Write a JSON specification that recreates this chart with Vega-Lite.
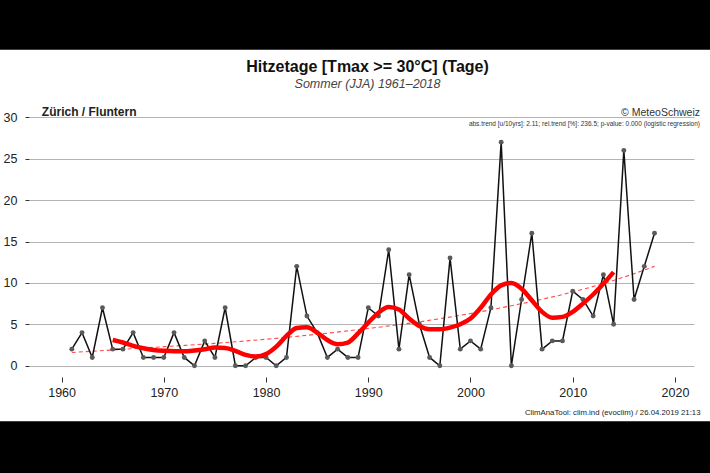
{
  "$schema": "https://vega.github.io/schema/vega-lite/v6.json",
  "width": 665,
  "height": 265,
  "autosize": {"type": "none"},
  "padding": {"left": 35, "top": 109, "right": 10, "bottom": 99},
  "background": "#ffffff",
  "title": {
    "text": "Hitzetage [Tmax >= 30°C] (Tage)",
    "subtitle": "Sommer (JJA) 1961–2018",
    "anchor": "middle",
    "frame": "group",
    "font": "Liberation Sans",
    "fontSize": 16,
    "fontWeight": "bold",
    "color": "#111111",
    "subtitleFont": "Liberation Sans",
    "subtitleFontStyle": "italic",
    "subtitleFontSize": 12.5,
    "subtitleColor": "#444444",
    "subtitlePadding": 3,
    "offset": -92.8
  },
  "config": {
    "view": {"stroke": null},
    "font": "Liberation Sans",
    "axisY": {
      "grid": true,
      "gridColor": "#b4b4b4",
      "gridWidth": 1.2,
      "domain": false,
      "tickColor": "#333333",
      "tickSize": 4,
      "offset": 6,
      "labelFontSize": 12.5,
      "labelColor": "#222222",
      "labelPadding": 8
    },
    "axisX": {
      "grid": false,
      "domain": false,
      "tickColor": "#333333",
      "tickSize": 5,
      "offset": 3,
      "labelFontSize": 12.5,
      "labelColor": "#222222",
      "labelPadding": 4,
      "titleFontSize": 7.8,
      "titleFontWeight": "normal",
      "titleColor": "#222222",
      "titleAnchor": "end",
      "titlePadding": 10
    }
  },
  "datasets": {
    "one": [{}],
    "obs": [
      {"year": 1961, "days": 2}, {"year": 1962, "days": 4}, {"year": 1963, "days": 1}, {"year": 1964, "days": 7},
      {"year": 1965, "days": 2}, {"year": 1966, "days": 2}, {"year": 1967, "days": 4}, {"year": 1968, "days": 1},
      {"year": 1969, "days": 1}, {"year": 1970, "days": 1}, {"year": 1971, "days": 4}, {"year": 1972, "days": 1},
      {"year": 1973, "days": 0}, {"year": 1974, "days": 3}, {"year": 1975, "days": 1}, {"year": 1976, "days": 7},
      {"year": 1977, "days": 0}, {"year": 1978, "days": 0}, {"year": 1979, "days": 1}, {"year": 1980, "days": 1},
      {"year": 1981, "days": 0}, {"year": 1982, "days": 1}, {"year": 1983, "days": 12}, {"year": 1984, "days": 6},
      {"year": 1985, "days": 4}, {"year": 1986, "days": 1}, {"year": 1987, "days": 2}, {"year": 1988, "days": 1},
      {"year": 1989, "days": 1}, {"year": 1990, "days": 7}, {"year": 1991, "days": 6}, {"year": 1992, "days": 14},
      {"year": 1993, "days": 2}, {"year": 1994, "days": 11}, {"year": 1995, "days": 5}, {"year": 1996, "days": 1},
      {"year": 1997, "days": 0}, {"year": 1998, "days": 13}, {"year": 1999, "days": 2}, {"year": 2000, "days": 3},
      {"year": 2001, "days": 2}, {"year": 2002, "days": 7}, {"year": 2003, "days": 27}, {"year": 2004, "days": 0},
      {"year": 2005, "days": 8}, {"year": 2006, "days": 16}, {"year": 2007, "days": 2}, {"year": 2008, "days": 3},
      {"year": 2009, "days": 3}, {"year": 2010, "days": 9}, {"year": 2011, "days": 8}, {"year": 2012, "days": 6},
      {"year": 2013, "days": 11}, {"year": 2014, "days": 5}, {"year": 2015, "days": 26}, {"year": 2016, "days": 8},
      {"year": 2017, "days": 12}, {"year": 2018, "days": 16}
    ],
    "smooth": [
      {"year": 1965, "value": 3.1}, {"year": 1966, "value": 2.8}, {"year": 1967, "value": 2.4}, {"year": 1968, "value": 2.1},
      {"year": 1969, "value": 1.9}, {"year": 1970, "value": 1.8}, {"year": 1971, "value": 1.75}, {"year": 1972, "value": 1.75},
      {"year": 1973, "value": 1.85}, {"year": 1974, "value": 2.0}, {"year": 1975, "value": 2.2}, {"year": 1976, "value": 2.15},
      {"year": 1977, "value": 1.8}, {"year": 1978, "value": 1.3}, {"year": 1979, "value": 1.1}, {"year": 1980, "value": 1.4},
      {"year": 1981, "value": 2.3}, {"year": 1982, "value": 3.6}, {"year": 1983, "value": 4.55}, {"year": 1984, "value": 4.65},
      {"year": 1985, "value": 4.0}, {"year": 1986, "value": 3.1}, {"year": 1987, "value": 2.6}, {"year": 1988, "value": 2.8},
      {"year": 1989, "value": 3.9}, {"year": 1990, "value": 5.2}, {"year": 1991, "value": 6.4}, {"year": 1992, "value": 7.1},
      {"year": 1993, "value": 6.8}, {"year": 1994, "value": 5.7}, {"year": 1995, "value": 4.8}, {"year": 1996, "value": 4.4},
      {"year": 1997, "value": 4.4}, {"year": 1998, "value": 4.6}, {"year": 1999, "value": 5.0}, {"year": 2000, "value": 5.7},
      {"year": 2001, "value": 7.0}, {"year": 2002, "value": 8.6}, {"year": 2003, "value": 9.7}, {"year": 2004, "value": 10.0},
      {"year": 2005, "value": 9.3}, {"year": 2006, "value": 7.9}, {"year": 2007, "value": 6.5}, {"year": 2008, "value": 5.8},
      {"year": 2009, "value": 5.9}, {"year": 2010, "value": 6.5}, {"year": 2011, "value": 7.5}, {"year": 2012, "value": 8.6},
      {"year": 2013, "value": 9.9}, {"year": 2014, "value": 11.3}
    ],
    "trend": [
      {"year": 1961, "value": 1.6}, {"year": 1965, "value": 1.9}, {"year": 1970, "value": 2.3}, {"year": 1975, "value": 2.7},
      {"year": 1980, "value": 3.2}, {"year": 1985, "value": 3.8}, {"year": 1990, "value": 4.5}, {"year": 1995, "value": 5.3},
      {"year": 2000, "value": 6.3}, {"year": 2005, "value": 7.5}, {"year": 2010, "value": 8.9}, {"year": 2015, "value": 10.7},
      {"year": 2018, "value": 12.0}
    ]
  },
  "layer": [
    {
      "data": {"name": "trend"},
      "mark": {"type": "line", "color": "#ff4a4a", "strokeWidth": 1.1, "strokeDash": [4, 3], "interpolate": "monotone"},
      "encoding": {
        "x": {"field": "year", "type": "quantitative", "scale": {"domain": [1957.4, 2022.45], "nice": false, "zero": false}, "title": "ClimAnaTool: clim.ind (evoclim) / 26.04.2019 21:13", "axis": {"values": [1960, 1970, 1980, 1990, 2000, 2010, 2020], "format": "d"}},
        "y": {"field": "value", "type": "quantitative", "scale": {"domain": [-1, 31], "nice": false, "zero": false}, "title": null, "axis": {"values": [0, 5, 10, 15, 20, 25, 30]}}
      }
    },
    {
      "data": {"name": "obs"},
      "mark": {"type": "line", "color": "#111111", "strokeWidth": 1.5},
      "encoding": {
        "x": {"field": "year", "type": "quantitative", "title": "ClimAnaTool: clim.ind (evoclim) / 26.04.2019 21:13", "axis": {"values": [1960, 1970, 1980, 1990, 2000, 2010, 2020], "format": "d"}},
        "y": {"field": "days", "type": "quantitative", "title": null, "axis": {"values": [0, 5, 10, 15, 20, 25, 30]}}
      }
    },
    {
      "data": {"name": "obs"},
      "mark": {"type": "circle", "color": "#5a5a5a", "size": 24, "opacity": 1},
      "encoding": {
        "x": {"field": "year", "type": "quantitative", "title": "ClimAnaTool: clim.ind (evoclim) / 26.04.2019 21:13", "axis": {"values": [1960, 1970, 1980, 1990, 2000, 2010, 2020], "format": "d"}},
        "y": {"field": "days", "type": "quantitative", "title": null, "axis": {"values": [0, 5, 10, 15, 20, 25, 30]}}
      }
    },
    {
      "data": {"name": "smooth"},
      "mark": {"type": "line", "color": "#ff0000", "strokeWidth": 4.5, "interpolate": "monotone"},
      "encoding": {
        "x": {"field": "year", "type": "quantitative", "title": "ClimAnaTool: clim.ind (evoclim) / 26.04.2019 21:13", "axis": {"values": [1960, 1970, 1980, 1990, 2000, 2010, 2020], "format": "d"}},
        "y": {"field": "value", "type": "quantitative", "title": null, "axis": {"values": [0, 5, 10, 15, 20, 25, 30]}}
      }
    },
    {
      "data": {"name": "one"},
      "mark": {"type": "text", "text": "Zürich / Fluntern", "align": "left", "baseline": "alphabetic", "dy": -1.5, "fontSize": 12, "fontWeight": "bold", "color": "#222222"},
      "encoding": {
        "x": {"datum": 1958.07, "type": "quantitative"},
        "y": {"datum": 30, "type": "quantitative"}
      }
    },
    {
      "data": {"name": "one"},
      "mark": {"type": "text", "text": "© MeteoSchweiz", "align": "right", "baseline": "alphabetic", "dy": -1, "fontSize": 10.5, "color": "#333333"},
      "encoding": {
        "x": {"datum": 2022.45, "type": "quantitative"},
        "y": {"datum": 30, "type": "quantitative"}
      }
    },
    {
      "data": {"name": "one"},
      "mark": {"type": "text", "text": "abs.trend [u/10yrs]:  2.11; rel.trend [%]: 236.5; p-value: 0.000 (logistic regression)", "align": "right", "baseline": "top", "dy": 4, "fontSize": 6.5, "color": "#333333"},
      "encoding": {
        "x": {"datum": 2022.45, "type": "quantitative"},
        "y": {"datum": 30, "type": "quantitative"}
      }
    },
    {
      "data": {"name": "one"},
      "mark": {"type": "rect", "color": "#000000"},
      "encoding": {
        "x": {"datum": 1950, "type": "quantitative"},
        "x2": {"datum": 2030},
        "y": {"datum": 38.15, "type": "quantitative"},
        "y2": {"datum": 44.5}
      }
    },
    {
      "data": {"name": "one"},
      "mark": {"type": "rect", "color": "#000000"},
      "encoding": {
        "x": {"datum": 1950, "type": "quantitative"},
        "x2": {"datum": 2030},
        "y": {"datum": -6.7, "type": "quantitative"},
        "y2": {"datum": -20}
      }
    }
  ]
}
